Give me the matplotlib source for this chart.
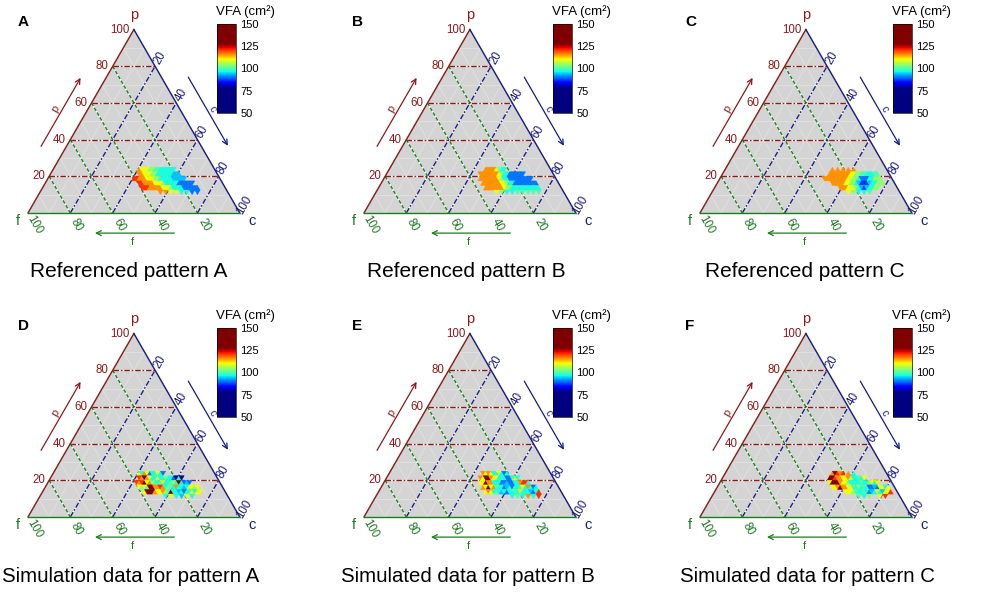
import numpy as np
import matplotlib.pyplot as plt
from matplotlib.collections import PolyCollection
from matplotlib.colors import ListedColormap, Normalize
import matplotlib.cm as cm

plt.rcParams['font.family'] = ['Liberation Sans', 'DejaVu Sans']

# VFA value (cm2) behind each colour code used in the cell rows below
code_values = {'n': 65, 'B': 87, 'b': 90, 'l': 94, 'c': 97, 'a': 100,
               'g': 104, 'y': 110, 'o': 116, 'r': 121, 'm': 135}

# cell rows: (row index b, cells from column k=0; even k = up triangle, odd k = down)
rows_A = [
    (9, "        oyyyggaacccccc"),
    (8, "         ooyyyggcccccclll"),
    (7, "        rroooyyyggccccclllll"),
    (6, "           rrooooyyygcccccbbbbbb"),
    (5, "             rrroooooyyygccccbbbbbb"),
    (4, "                     o o y y c c b b"),
]
rows_B = [
    (9, "          ooooygcc"),
    (8, "         oooooooygccbbbbbb"),
    (7, "          oooooooygccbbbbbbbbb"),
    (6, "            oooooooyygccbbbbbbbbb"),
    (5, "              oooooooyggccccccccccc"),
    (4, "                   y g c c a a a a a"),
]
rows_C = [
    (9, "        o o o o o"),
    (8, "        ooooooooyyggaacccaa"),
    (7, "       oooooooooyyggcbbbccggg"),
    (6, "           oooooyyggclBBBlccggg"),
    (5, "               oooyyygclBlccgg"),
    (4, "                   y g c c a"),
]
rows_D = [
    (9, "        ycoybccycb"),
    (8, "         romoyccyccgccbncn"),
    (7, "         rormyogacayccagcmcblb"),
    (6, "           ygyammoorocgacocclcyygy"),
    (5, "              ymmmoyyogamcclcbccycyy"),
    (4, "                       c y c l y c"),
]
rows_E = [
    (9, "         oyoyccycbc"),
    (8, "         oymmoyycccbbcyc"),
    (7, "          yymoocccbblbbccorrc"),
    (6, "            oymyoaccblcbccaycocbc"),
    (5, "              yoycaclcbccacyccclbcr"),
    (4, "                         c a c o c r"),
]
rows_F = [
    (9, "        omror o c"),
    (8, "        mmrooyyoyccacy"),
    (7, "         ymmmoyygccccaccgycy"),
    (6, "           yyomooyyacgcacbblbyycy"),
    (5, "                 yyygaccacblcyclyyr"),
    (4, "                       a c g   y r"),
]
panel_rows = [rows_A, rows_B, rows_C, rows_D, rows_E, rows_F]
# lattice column of k=0 in each panel
panel_a0 = [12, 13, 16, 12, 13, 16]
panel_letters = ['A', 'B', 'C', 'D', 'E', 'F']
panel_titles = ['Referenced pattern A', 'Referenced pattern B', 'Referenced pattern C',
                'Simulation data for pattern A', 'Simulated data for pattern B',
                'Simulated data for pattern C']
grid_ticks = [20, 40, 60, 80]
edge_ticks = [20, 40, 60, 80, 100]
cbar_ticks = [50, 75, 100, 125, 150]
STEP = 2.5

RED = '#8B1A1A'
NAVY = '#1A1A80'
GREEN = '#1E7B1E'
GRAY = '#d4d4d4'
S3 = np.sqrt(3)

levels = np.linspace(50, 150, 256)
cmap = ListedColormap(plt.get_cmap('jet')(np.clip((levels - 78) / 50, 0, 1)))
norm = Normalize(50, 150)


def tern(p, c):
    return c + p / 2, p * S3 / 2


def cell_polys(rows, a0):
    polys, vals = [], []
    for b, s in rows:
        for k, ch in enumerate(s):
            if ch == ' ':
                continue
            a = a0 + k // 2
            if k % 2 == 0:
                pts = [(a, b), (a + 1, b), (a, b + 1)]
            else:
                pts = [(a + 1, b), (a, b + 1), (a + 1, b + 1)]
            polys.append([tern(bb * STEP, aa * STEP) for aa, bb in pts])
            vals.append(code_values[ch])
    return polys, np.array(vals)


def dashed(ax, p0, p1, color, dashes):
    xs, ys = zip(tern(*p0), tern(*p1))
    ax.plot(xs, ys, color='white', lw=1.0, zorder=2)
    ax.plot(xs, ys, color=color, lw=1.0, dashes=dashes, zorder=3)


fig = plt.figure(figsize=(10, 5.93), dpi=100)
U = 2.118
panel_x = [28, 364, 700]
panel_y = [213, 517]
cbar_x = [217, 553, 893]
letter_x = [18, 352, 685]
letter_y = [22, 326]
title_x = [129, 466, 805]
title_y = [272, 577]


def fx(px):
    return px / 1000


def fy(py):
    return 1 - py / 593


for i in range(6):
    col, row = i % 3, i // 3
    X0, Y0 = panel_x[col], panel_y[row]
    ax = fig.add_axes([fx(X0 - 20 * U), fy(Y0 + 30 * U), 150 * U / 1000, 130 * U / 593])
    ax.set_xlim(-20, 130)
    ax.set_ylim(-30, 100)
    ax.axis('off')

    # triangle background and fine grid
    ax.fill([0, 100, 50], [0, 0, 50 * S3], color=GRAY, zorder=0)
    for v in range(10, 100, 10):
        for p0, p1 in [((v, 0), (v, 100 - v)), ((0, v), (100 - v, v)),
                       ((0, 100 - v), (100 - v, 0))]:
            xs, ys = zip(tern(*p0), tern(*p1))
            ax.plot(xs, ys, color='#e4e4e4', lw=0.5, zorder=1)

    # dashed grid lines
    for v in grid_ticks:
        dashed(ax, (v, 0), (v, 100 - v), RED, (4, 1.3, 1.2, 1.3))
        dashed(ax, (0, v), (100 - v, v), NAVY, (4, 1.3, 1.2, 1.3))
        dashed(ax, (100 - v, 0), (0, 100 - v), GREEN, (2.6, 1.4))

    # cells
    polys, vals = cell_polys(panel_rows[i], panel_a0[i])
    pc = PolyCollection(polys, array=vals, cmap=cmap, norm=norm,
                        edgecolors='face', linewidths=0.3, zorder=4)
    ax.add_collection(pc)

    # edges
    ax.plot(*zip(tern(0, 0), tern(100, 0)), color=RED, lw=1.0, zorder=5)
    ax.plot(*zip(tern(100, 0), tern(0, 100)), color=NAVY, lw=1.0, zorder=5)
    ax.plot(*zip(tern(0, 0), tern(0, 100)), color=GREEN, lw=1.0, zorder=5)

    # edge tick labels
    for v in edge_ticks:
        x, y = tern(v, 0)
        ax.text(x - 2, y, str(v), ha='right', va='center', color=RED, fontsize=8.3)
        x, y = tern(100 - v, v)
        ax.text(x + 2.2, y + 3.8, str(v), ha='center', va='center', color=NAVY,
                fontsize=8.3, rotation=60, rotation_mode='anchor')
        x, y = tern(0, 100 - v)
        ax.text(x + 3.0, y - 5.6, str(v), ha='center', va='center', color=GREEN,
                fontsize=8.3, rotation=-60, rotation_mode='anchor')

    # corner names
    ax.text(50, 50 * S3 + 7, 'p', ha='center', va='center', color=RED, fontsize=10.5)
    ax.text(-5, -4, 'f', ha='center', va='center', color=GREEN, fontsize=10.5)
    ax.text(106, -4, 'c', ha='center', va='center', color=NAVY, fontsize=10.5)

    # direction arrows
    e, n = np.array([0.5, S3 / 2]), np.array([-S3 / 2, 0.5])
    ax.annotate('', xy=e * 69 + n * 10.4, xytext=e * 29 + n * 10.4,
                arrowprops=dict(arrowstyle='->', color=RED, lw=0.9, mutation_scale=9))
    lx, ly = e * 49 + n * 13.5
    ax.text(lx, ly, 'p', ha='center', va='center', color=RED, fontsize=8, rotation=60)

    apex = np.array([50, 50 * S3])
    e, n = np.array([0.5, -S3 / 2]), np.array([S3 / 2, 0.5])
    ax.annotate('', xy=apex + e * 71 + n * 11, xytext=apex + e * 31 + n * 11,
                arrowprops=dict(arrowstyle='->', color=NAVY, lw=0.9, mutation_scale=9))
    lx, ly = apex + e * 51 + n * 13.5
    ax.text(lx, ly, 'c', ha='center', va='center', color=NAVY, fontsize=8, rotation=-60)

    ax.annotate('', xy=(30.3, -9.5), xytext=(70.4, -9.5),
                arrowprops=dict(arrowstyle='->', color=GREEN, lw=0.9, mutation_scale=9))
    ax.text(49.5, -13.8, 'f', ha='center', va='center', color=GREEN, fontsize=8)

    # colour bar
    cb_top = Y0 - 189
    cax = fig.add_axes([fx(cbar_x[col]), fy(cb_top + 89), 19 / 1000, 89 / 593])
    cb = fig.colorbar(cm.ScalarMappable(norm=norm, cmap=cmap), cax=cax, ticks=cbar_ticks)
    cb.ax.tick_params(labelsize=8, length=0, pad=3)
    cb.outline.set_linewidth(0.5)
    fig.text(fx(cbar_x[col] - 1), fy(cb_top - 12), 'VFA (cm²)', ha='left', va='center',
             fontsize=9.5)

    # panel letter and title
    fig.text(fx(letter_x[col]), fy(letter_y[row]), panel_letters[i], ha='left',
             va='center', fontsize=11, weight='bold')
    fig.text(fx(title_x[col] + (2 if row else 0)), fy(title_y[row]), panel_titles[i],
             ha='center', va='center', fontsize=15 if row == 0 else 14.7)

fig.savefig('out.png', dpi=100)
